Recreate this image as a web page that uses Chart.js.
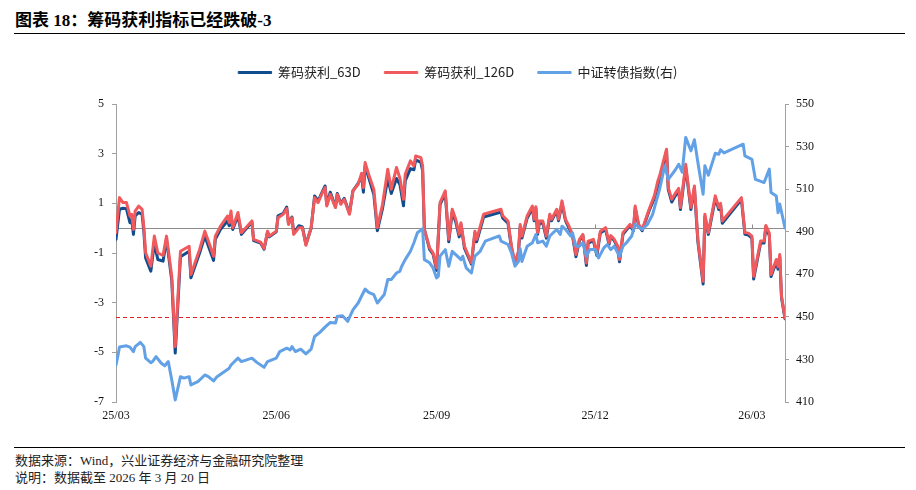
<!DOCTYPE html>
<html>
<head>
<meta charset="utf-8">
<script src="https://cdn.jsdelivr.net/npm/chart.js@4.4.1/dist/chart.umd.min.js"></script>
<style>
  body { margin: 0; width: 916px; height: 490px; background: #fff; position: relative; overflow: hidden;
         font-family: "Liberation Serif", "Noto Sans CJK SC", serif; }
  #title { position: absolute; left: 15px; top: 6px; font-size: 17px; font-weight: bold; color: #000; }
  .rule { position: absolute; left: 14px; width: 891px; height: 1px; background: #000; }
  #box { position: absolute; left: 0; top: 40px; width: 916px; height: 400px; }
  .note { position: absolute; left: 15px; font-size: 13px; color: #222; }
</style>
</head>
<body>
<div id="title">图表 18：筹码获利指标已经跌破-3</div>
<div class="rule" style="top:33px"></div>
<div id="box"><canvas id="chip"></canvas></div>
<div class="rule" style="top:447px"></div>
<div class="note" style="top:450px">数据来源：Wind，兴业证券经济与金融研究院整理</div>
<div class="note" style="top:467px">说明：数据截至 2026 年 3 月 20 日</div>
<script>
// x values are calendar days counted from 2025-03-01 (last point = 2026-03-20)
const tickDays = [0, 92, 184, 275, 365];
const tickLabels = ['25/03', '25/06', '25/09', '25/12', '26/03'];

const profitDays = [
  0, 2, 4, 6, 8, 9, 10, 11, 13, 15, 16, 17, 20, 22, 24, 27, 29, 32, 34, 37,
  42, 43, 48, 51, 53, 56, 57, 60, 64, 65, 66, 67, 70, 72, 78, 79, 83, 85, 87, 88,
  92, 93, 96, 98, 99, 101, 102, 105, 107, 109, 112, 114, 116, 118, 120, 121, 123, 125, 126, 127,
  129, 131, 134, 136, 139, 141, 142, 143, 145, 148, 150, 153, 156, 158, 161, 163, 165, 166, 169, 171,
  172, 175, 176, 177, 180, 182, 184, 186, 189, 191, 193, 195, 197, 198, 200, 204, 206, 207, 211, 221,
  222, 225, 227, 229, 231, 232, 233, 236, 239, 240, 241, 242, 243, 245, 247, 249, 250, 253, 254, 256,
  258, 260, 262, 264, 266, 268, 270, 271, 274, 276, 278, 281, 283, 284, 286, 288, 289, 291, 295, 297,
  298, 300, 302, 306, 309, 311, 312, 313, 316, 317, 319, 321, 323, 324, 327, 330, 332, 334, 337, 338,
  340, 344, 346, 347, 348, 359, 361, 363, 365, 366, 370, 372, 373, 375, 376, 379, 380, 381, 382, 384
];
const chip63 = [
  -0.45, 0.76, 0.80, 0.78, 0.22, 0.35, -0.25, 0.49, 0.63, 0.55, -0.15, -1.20, -1.73, -0.60, -1.26, -1.33, -0.45, -2.10, -5.03, -1.15,
  -0.93, -2.00, -1.00, -0.32, -0.72, -1.30, -0.45, -0.05, 0.29, 0.10, 0.50, -0.05, 0.50, -0.25, 0.25, -0.50, -0.60, -0.85, -0.15, -0.35,
  -0.15, 0.50, 0.60, 0.85, 0.20, 0.45, -0.20, 0.10, 0.05, -0.65, 0.00, 1.30, 1.10, 1.40, 1.70, 0.95, 1.45, 1.05, 0.85, 1.40,
  1.00, 1.20, 0.60, 1.50, 1.80, 2.10, 1.45, 2.50, 2.05, 1.35, -0.10, 0.80, 2.00, 1.40, 2.00, 1.75, 0.90, 1.90, 2.40, 2.35,
  2.75, 2.65, 2.30, -0.05, -0.85, -1.05, -1.70, 0.95, 1.40, -0.55, 0.65, 0.25, -0.35, 0.15, -0.80, -1.45, -0.20, -0.55, 0.45, 0.65,
  0.40, 0.20, -0.80, -1.45, -1.00, 0.05, -0.40, 0.40, 0.80, 0.30, 0.80, -0.25, 0.20, 0.20, -0.40, 0.50, 0.30, 0.70, 0.30, 1.00,
  0.30, 0.00, -0.30, -1.15, -0.50, -0.30, -1.50, -0.60, -0.50, -1.10, -0.20, -0.05, -0.65, -0.35, -0.50, -0.80, -1.35, -0.25, 0.10, -0.10,
  0.80, 0.10, -0.10, 0.70, 1.20, 1.70, 1.95, 2.25, 3.10, 1.55, 1.05, 1.30, 1.50, 0.75, 2.45, 0.75, 1.60, -0.55, -2.25, 0.45,
  -0.25, 1.20, 0.75, 0.95, 0.20, 1.15, -0.25, -0.28, -0.40, -2.05, -0.60, -0.60, 0.05, -0.30, -1.95, -1.35, -1.65, -1.15, -2.80, -3.65
];
const chip126 = [
  -0.18, 1.23, 1.03, 1.03, 0.49, 0.56, -0.05, 0.69, 0.89, 0.76, 0.02, -0.99, -1.53, -0.32, -1.00, -1.10, -0.32, -1.94, -4.77, -0.93,
  -0.73, -1.87, -0.86, -0.12, -0.52, -1.13, -0.32, 0.08, 0.49, 0.22, 0.69, 0.02, 0.63, -0.18, 0.29, -0.45, -0.56, -0.82, -0.12, -0.32,
  -0.12, 0.42, 0.56, 0.79, 0.15, 0.42, -0.25, 0.02, 0.02, -0.69, 0.02, 1.23, 1.03, 1.36, 1.63, 0.89, 1.36, 1.00, 0.83, 1.36,
  0.96, 1.16, 0.56, 1.50, 1.77, 2.21, 1.63, 2.64, 2.17, 1.56, 0.02, 0.96, 2.37, 1.57, 2.44, 2.00, 1.16, 2.17, 2.71, 2.50,
  2.91, 2.84, 2.50, -0.05, -0.79, -1.00, -1.60, 1.03, 1.50, -0.45, 0.76, 0.36, -0.25, 0.22, -0.73, -1.40, -0.12, -0.45, 0.56, 0.76,
  0.50, 0.29, -0.73, -1.40, -0.93, 0.15, -0.32, 0.49, 0.89, 0.36, 0.86, -0.18, 0.29, 0.29, -0.32, 0.56, 0.36, 0.76, 0.36, 1.10,
  0.36, 0.08, -0.25, -1.06, -0.45, -0.25, -1.40, -0.52, -0.45, -1.00, -0.12, 0.02, -0.59, -0.30, -0.45, -0.73, -1.26, -0.18, 0.15, -0.05,
  0.89, 0.15, -0.05, 0.76, 1.30, 1.90, 2.10, 2.37, 3.18, 1.63, 1.16, 1.40, 1.60, 0.83, 2.57, 0.83, 1.70, -0.45, -2.14, 0.56,
  -0.18, 1.30, 0.83, 1.00, 0.29, 1.23, -0.18, -0.20, -0.32, -1.94, -0.52, -0.52, 0.11, -0.20, -1.87, -1.26, -1.55, -1.06, -2.74, -3.62
];

const indexDays = [
  0, 1, 2, 6, 8, 10, 11, 14, 16, 17, 20, 21, 23, 26, 28, 30, 32, 34, 37, 39,
  42, 43, 47, 51, 53, 56, 58, 65, 66, 70, 72, 78, 81, 85, 87, 92, 94, 98, 100, 101,
  103, 106, 109, 112, 114, 117, 120, 123, 126, 127, 130, 133, 136, 139, 143, 145, 148, 150, 154, 156,
  158, 161, 163, 164, 166, 169, 171, 173, 176, 177, 180, 182, 184, 185, 186, 189, 191, 193, 197, 198,
  199, 201, 204, 206, 209, 212, 215, 220, 221, 225, 227, 229, 231, 232, 233, 234, 236, 239, 241, 242,
  245, 247, 249, 253, 255, 256, 258, 261, 262, 264, 266, 268, 270, 272, 275, 277, 280, 282, 284, 286,
  289, 291, 293, 296, 298, 302, 305, 308, 312, 315, 317, 321, 323, 325, 327, 330, 332, 334, 337, 338,
  340, 344, 346, 347, 349, 360, 361, 365, 367, 369, 372, 375, 376, 379, 380, 381, 384
];
const cbIndex = [
  427.4, 431.3, 435.8, 436.4, 435.8, 433.7, 436.0, 438.0, 436.0, 430.6, 428.5, 429.0, 431.3, 428.2, 427.0, 429.0, 420.3, 411.0, 421.9, 421.2,
  421.9, 418.0, 419.6, 422.7, 421.9, 419.9, 421.9, 425.9, 427.4, 430.6, 429.0, 430.6, 428.5, 426.3, 429.0, 430.6, 433.7, 435.3, 434.5, 436.0,
  433.7, 434.8, 432.6, 434.8, 440.8, 442.7, 445.2, 447.4, 447.1, 450.2, 450.5, 447.9, 453.3, 456.5, 463.1, 461.5, 460.4, 456.5, 460.5, 467.5,
  467.5, 470.6, 471.5, 473.8, 476.9, 480.8, 484.8, 489.5, 491.4, 476.9, 475.4, 473.0, 468.3, 469.0, 478.5, 481.6, 473.8, 480.8, 477.7, 476.9,
  478.5, 473.0, 470.6, 478.5, 480.8, 485.6, 486.5, 488.0, 485.6, 484.0, 480.1, 473.8, 476.0, 482.0, 476.0, 478.5, 483.2, 484.8, 488.7, 484.8,
  485.6, 483.2, 488.0, 491.1, 488.7, 492.6, 491.1, 488.0, 489.5, 483.2, 483.2, 484.8, 478.5, 481.6, 481.6, 477.7, 482.4, 484.0, 481.6, 483.2,
  478.5, 483.2, 484.8, 488.0, 493.4, 491.1, 493.4, 498.1, 509.9, 521.0, 514.6, 519.0, 521.7, 518.0, 534.3, 528.0, 533.2, 522.5, 507.6, 521.0,
  516.5, 526.9, 526.4, 528.5, 527.0, 531.1, 525.6, 524.0, 514.6, 514.0, 513.1, 519.4, 508.4, 506.8, 498.9, 503.0, 491.8
];

const latestLevel = -3.57;   // dashed marker at the latest reading

const tickFont = { family: 'Liberation Serif', size: 12 };

const refLines = {
  id: 'refLines',
  beforeInit(chart) {
    // push the plot area down below the legend
    const fit = chart.legend.fit;
    chart.legend.fit = function () {
      fit.bind(chart.legend)();
      this.height += 15;
    };
  },
  beforeDatasetsDraw(chart) {
    const { ctx, chartArea: a, scales: { x, y } } = chart;
    ctx.save();
    const y0 = Math.round(y.getPixelForValue(0)) + 0.5;
    ctx.strokeStyle = '#8c8c8c';
    ctx.lineWidth = 1;
    ctx.beginPath();
    ctx.moveTo(a.left, y0);
    ctx.lineTo(a.right, y0);
    tickDays.forEach(d => {
      const px = Math.round(x.getPixelForValue(d)) + 0.5;
      ctx.moveTo(px, y0);
      ctx.lineTo(px, y0 - 4);
    });
    ctx.stroke();

    const yd = Math.round(y.getPixelForValue(latestLevel)) + 0.5;
    ctx.strokeStyle = '#e41f1f';
    ctx.setLineDash([4, 3]);
    ctx.beginPath();
    ctx.moveTo(a.left, yd);
    ctx.lineTo(a.right, yd);
    ctx.stroke();
    ctx.restore();
  }
};

const toPoints = (xs, ys) => xs.map((d, i) => ({ x: d, y: ys[i] }));

new Chart(document.getElementById('chip'), {
  type: 'line',
  data: {
    datasets: [
      {
        label: '筹码获利_63D',
        data: toPoints(profitDays, chip63),
        borderColor: '#0f4d8e', backgroundColor: '#0f4d8e',
        borderWidth: 3, yAxisID: 'y', order: 2
      },
      {
        label: '筹码获利_126D',
        data: toPoints(profitDays, chip126),
        borderColor: '#f05a5d', backgroundColor: '#f05a5d',
        borderWidth: 3, yAxisID: 'y', order: 1
      },
      {
        label: '中证转债指数(右)',
        data: toPoints(indexDays, cbIndex),
        borderColor: '#63a1e6', backgroundColor: '#63a1e6',
        borderWidth: 3, yAxisID: 'y1', order: 0
      }
    ]
  },
  options: {
    responsive: true,
    maintainAspectRatio: false,
    animation: false,
    devicePixelRatio: 1,
    layout: { padding: { top: 2, left: 0, right: 0, bottom: 0 } },
    elements: {
      point: { radius: 0 },
      line: { tension: 0, borderJoinStyle: 'round', borderCapStyle: 'round' }
    },
    plugins: {
      tooltip: { enabled: false },
      legend: {
        position: 'top',
        labels: {
          font: { family: 'Noto Sans CJK SC', size: 13 },
          color: '#222',
          boxWidth: 33,
          boxHeight: 2,
          padding: 24,
          sort: (a, b) => a.datasetIndex - b.datasetIndex,
          generateLabels: chart =>
            Chart.defaults.plugins.legend.labels.generateLabels(chart).map(l => ({ ...l, lineWidth: 1 }))
        }
      }
    },
    scales: {
      x: {
        type: 'linear',
        min: 0,
        max: 384,
        afterBuildTicks: s => { s.ticks = tickDays.map(v => ({ value: v })); },
        afterFit: s => { s.height = 38; },
        ticks: {
          autoSkip: false, maxRotation: 0, padding: 7,
          font: tickFont, color: '#111',
          callback: v => tickLabels[tickDays.indexOf(v)]
        },
        grid: { display: false, drawTicks: false, tickLength: 0 },
        border: { display: false }
      },
      y: {
        position: 'left',
        min: -7, max: 5,
        afterFit: s => { s.width = 116; },
        ticks: { stepSize: 2, padding: 8, font: tickFont, color: '#111' },
        grid: { drawOnChartArea: false, tickLength: 4, color: '#a0a0a0' },
        border: { color: '#a0a0a0' }
      },
      y1: {
        position: 'right',
        min: 410, max: 550,
        afterFit: s => { s.width = 131; },
        ticks: { stepSize: 20, padding: 7, font: tickFont, color: '#111' },
        grid: { drawOnChartArea: false, tickLength: 4, color: '#a0a0a0' },
        border: { color: '#a0a0a0' }
      }
    }
  },
  plugins: [refLines]
});
</script>
</body>
</html>
